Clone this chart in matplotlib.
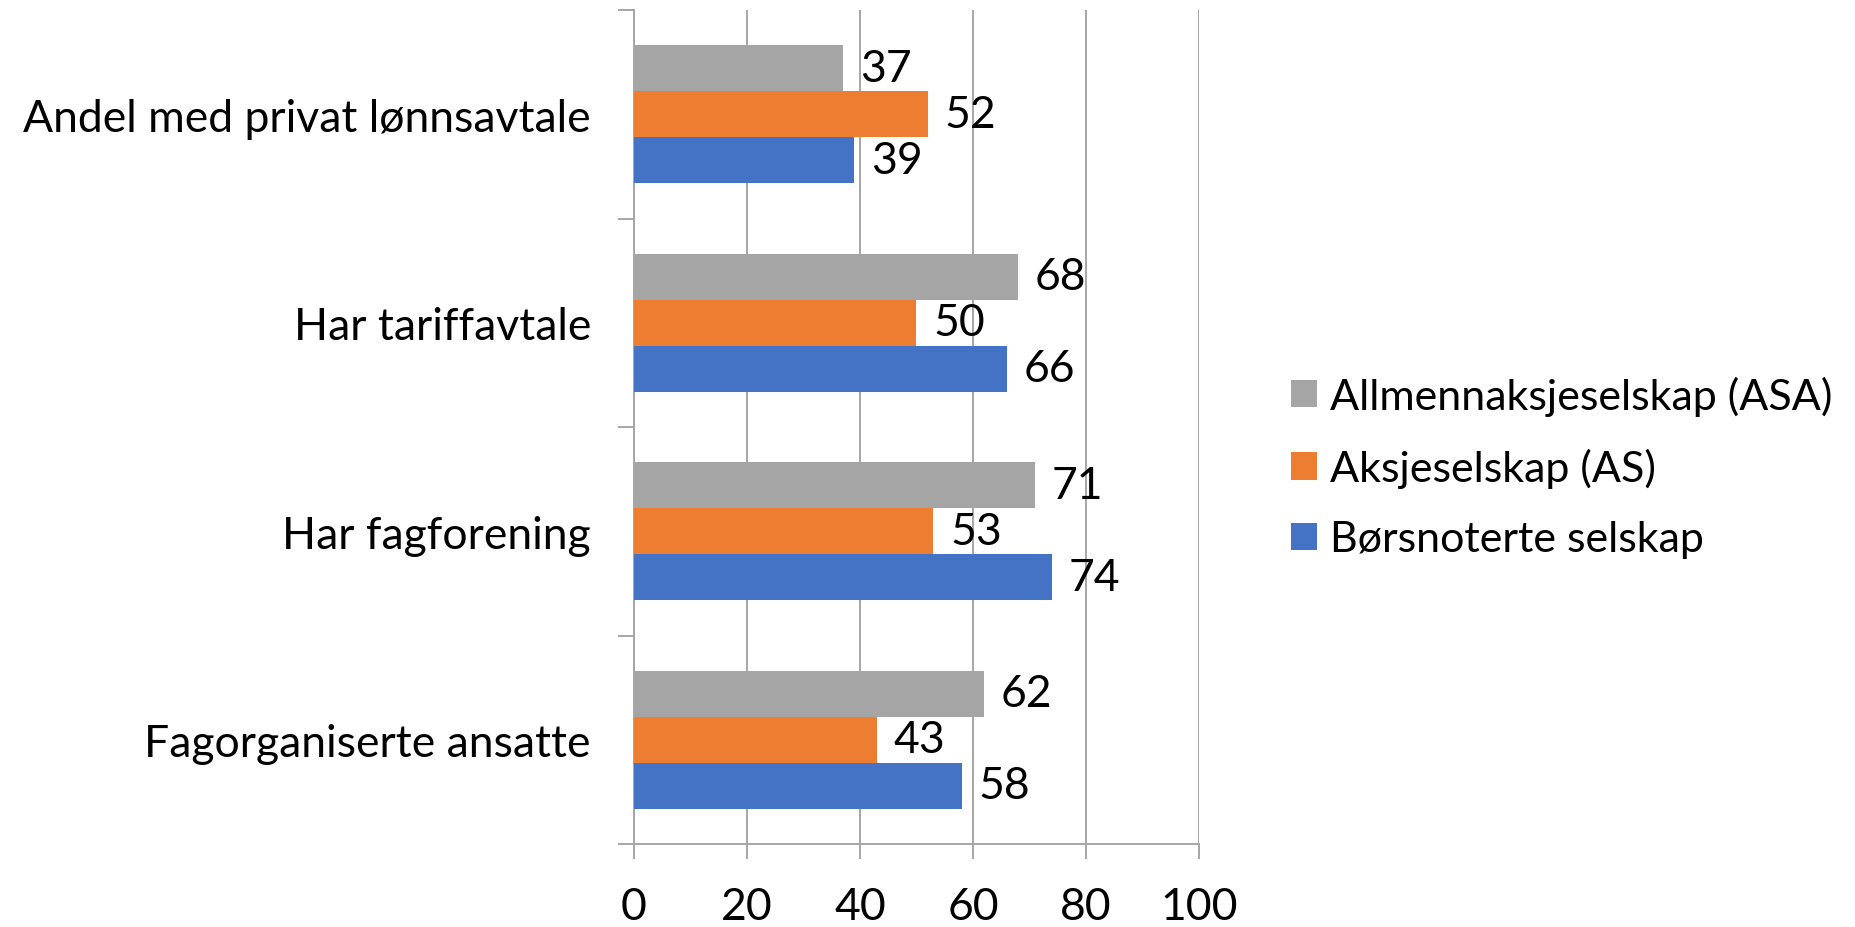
import matplotlib.pyplot as plt
import numpy as np

plt.rcParams['font.family'] = ['Lato', 'DejaVu Sans']

# categories from bottom to top
categories = ['Fagorganiserte ansatte', 'Har fagforening', 'Har tariffavtale',
              'Andel med privat lønnsavtale']
series_names = ['Allmennaksjeselskap (ASA)', 'Aksjeselskap (AS)', 'Børsnoterte selskap']
asa = [62, 71, 68, 37]
as_ = [43, 53, 50, 52]
borsnoterte = [58, 74, 66, 39]
x_ticks = [0, 20, 40, 60, 80, 100]

colors = ['#A5A5A5', '#ED7D31', '#4472C4']
grid_col = '#A6A6A6'
fs = 32

fig = plt.figure(figsize=(18.55, 9.28), dpi=100)
ax = fig.add_axes([634 / 1855, 1 - 845 / 928, 565 / 1855, 834 / 928])

y = np.arange(len(categories))
h = 0.22
vals = [asa, as_, borsnoterte]
offsets = [h, 0, -h]
handles = []
for v, off, c, name in zip(vals, offsets, colors, series_names):
    b = ax.barh(y + off, v, height=h, color=c, label=name, zorder=3)
    ax.bar_label(b, padding=12, fontsize=fs)
    handles.append(b)

ax.set_xlim(0, 100)
ax.set_ylim(-0.5, 3.5)
ax.set_xticks(x_ticks)
ax.set_yticks(y, categories)
ax.set_yticks(np.arange(-0.5, 4, 1), minor=True)

ax.tick_params(axis='y', which='major', length=0, pad=31, labelsize=fs)
ax.tick_params(axis='y', which='minor', length=11.5, width=1.4, color=grid_col, direction='out')
ax.tick_params(axis='x', length=11, width=1.4, color=grid_col, pad=19, labelsize=fs)

ax.grid(axis='x', color=grid_col, linewidth=1.4, zorder=0)
for s in ['top', 'right']:
    ax.spines[s].set_visible(False)
for s in ['left', 'bottom']:
    ax.spines[s].set_color(grid_col)
    ax.spines[s].set_linewidth(1.4)

fig.legend(handles=handles, labels=series_names, loc='center left',
           bbox_to_anchor=(1291 / 1855, 1 - 468 / 928), frameon=False,
           fontsize=31, handlelength=0.6, handleheight=0.6, handletextpad=0.3,
           labelspacing=0.75, borderpad=0, borderaxespad=0)

fig.savefig('out.png', dpi=100)
